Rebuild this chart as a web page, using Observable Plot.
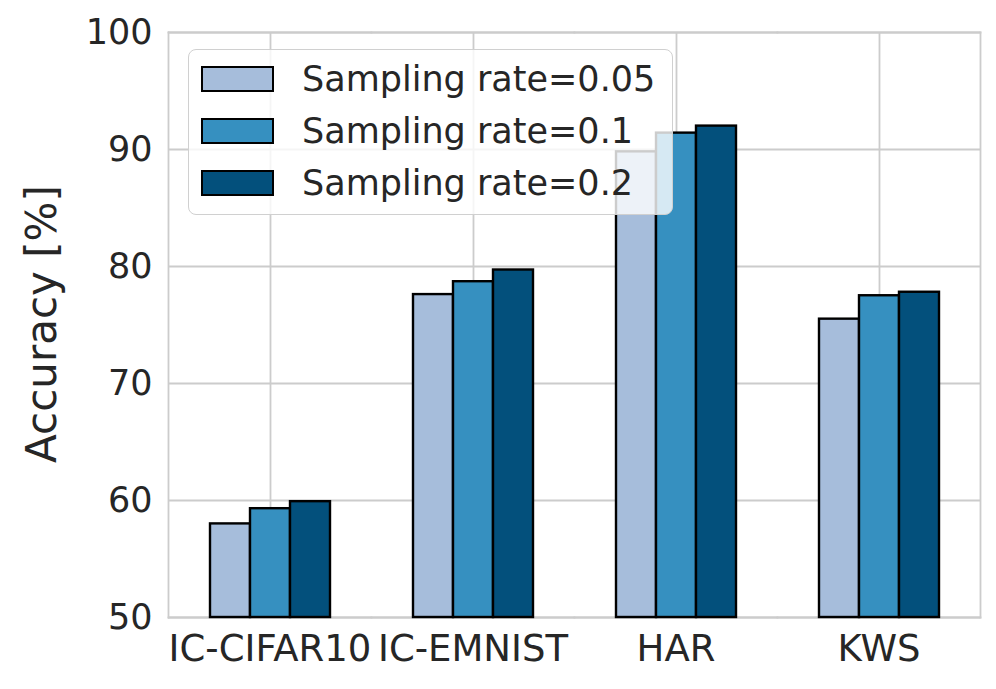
<!DOCTYPE html>
<html>
<head>
<meta charset="utf-8">
<script src="https://cdn.jsdelivr.net/npm/d3@7"></script>
<script src="https://cdn.jsdelivr.net/npm/@observablehq/plot@0.6"></script>
<style>
  body { margin: 0; background: #fff; font-family: "DejaVu Sans", sans-serif; }
  #wrap { position: relative; width: 996px; height: 689px; }
  #ylabel { position: absolute; left: 41px; top: 324px; transform: translate(-50%, -50%) rotate(-90deg);
            font-size: 42px; color: #262626; white-space: nowrap; }
  #legend { position: absolute; left: 188px; top: 49px; width: 485px; height: 166px; box-sizing: border-box;
            border: 1.5px solid #d0d0d0; border-radius: 8px; background: rgba(255,255,255,0.8); }
  .row { position: absolute; left: 12px; height: 52px; display: flex; align-items: center; }
  .sw { width: 73px; height: 26px; box-sizing: border-box; border: 2.4px solid #000; }
  .lt { margin-left: 28px; font-size: 35px; color: #262626; white-space: nowrap; }
</style>
</head>
<body>
<div id="wrap">
  <div id="chart"></div>
  <div id="ylabel">Accuracy [%]</div>
  <div id="legend"></div>
</div>
<script>
const categories = ["IC-CIFAR10", "IC-EMNIST", "HAR", "KWS"];
const series = ["Sampling rate=0.05", "Sampling rate=0.1", "Sampling rate=0.2"];
const rate005 = [58.0, 77.6, 89.8, 75.5];
const rate01  = [59.3, 78.7, 91.4, 77.5];
const rate02  = [59.9, 79.7, 92.0, 77.8];
const yTicks = [50, 60, 70, 80, 90, 100];
const colors = ["#a6bddb", "#3690c0", "#03507c"];

const values = [rate005, rate01, rate02];
const data = [];
categories.forEach((c, i) => series.forEach((s, j) => data.push({category: c, series: s, value: values[j][i]})));

const gridColor = "#cccccc";
const chart = Plot.plot({
  width: 996,
  height: 689,
  marginLeft: 168,
  marginRight: 16,
  marginTop: 32,
  marginBottom: 72,
  style: {fontFamily: "DejaVu Sans", color: "#262626", background: "#fff"},
  fx: {domain: categories, paddingInner: 0, paddingOuter: 0, label: null},
  x: {domain: series, paddingInner: 0, paddingOuter: 1, axis: null},
  y: {domain: [50, 100], label: null},
  color: {domain: series, range: colors},
  marks: [
    Plot.gridY(yTicks, {stroke: gridColor, strokeOpacity: 1, strokeWidth: 1.8}),
    Plot.ruleX([series[1]], {stroke: gridColor, strokeOpacity: 1, strokeWidth: 1.8}),
    Plot.frame({anchor: "top", stroke: gridColor, strokeWidth: 1.8}),
    Plot.frame({anchor: "bottom", stroke: gridColor, strokeWidth: 1.8}),
    Plot.frame({anchor: "left", facetAnchor: "left", stroke: gridColor, strokeWidth: 1.8}),
    Plot.frame({anchor: "right", facetAnchor: "right", stroke: gridColor, strokeWidth: 1.8}),
    Plot.barY(data, {fx: "category", x: "series", y1: 50, y2: "value", fill: "series", stroke: "#000", strokeWidth: 2.4}),
    Plot.axisY(yTicks, {tickSize: 0, tickPadding: 16, fontSize: 35, label: null, fill: "#262626"}),
    Plot.axisFx({anchor: "bottom", tickSize: 0, tickPadding: 17, fontSize: 37, label: null, fill: "#262626"})
  ]
});
document.getElementById("chart").appendChild(chart);

const legend = document.getElementById("legend");
series.forEach((s, j) => {
  const row = document.createElement("div");
  row.className = "row";
  row.style.top = (3 + 52 * j) + "px";
  const sw = document.createElement("div");
  sw.className = "sw";
  sw.style.background = colors[j];
  const lt = document.createElement("div");
  lt.className = "lt";
  lt.textContent = s;
  row.appendChild(sw);
  row.appendChild(lt);
  legend.appendChild(row);
});
</script>
</body>
</html>
